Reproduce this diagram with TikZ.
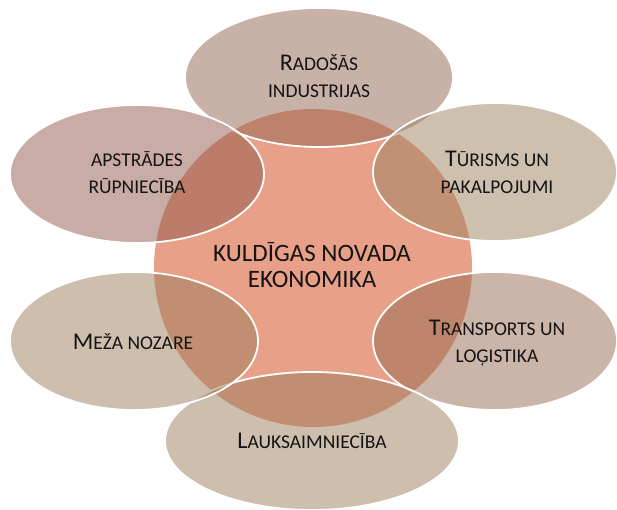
\documentclass[tikz,border=0pt]{standalone}
\usepackage{fontspec}
\setmainfont{Carlito}
\usetikzlibrary{shapes.geometric}
\definecolor{circc}{RGB}{232,160,136}
\definecolor{ctop}{RGB}{145,101,81}
\definecolor{clt}{RGB}{145,89,75}
\definecolor{crt}{RGB}{157,129,93}
\definecolor{crb}{RGB}{151,105,81}
\definecolor{cbot}{RGB}{157,125,93}
\definecolor{clb}{RGB}{157,125,93}
\definecolor{txt}{RGB}{20,20,20}
\newcommand\scx[1]{{\fontsize{19.5}{24}\selectfont #1}}
\begin{document}
\begin{tikzpicture}[x=1pt,y=-1pt,
  ell/.style={ellipse, draw=white, line width=1.8pt, fill opacity=0.5, inner sep=0pt},
  lbl/.style={anchor=base, inner sep=0pt, text=txt, font=\fontsize{24}{28}\selectfont},
  clbl/.style={anchor=base, inner sep=0pt, text=txt, font=\fontsize{25}{30}\selectfont}]
\useasboundingbox (0,0) rectangle (617,510);
\node[circle, fill=circc, minimum size=318pt, inner sep=0pt] (core) at (313,268) {};
\node[ell, fill=ctop, minimum width=268pt, minimum height=139pt] (etop) at (319,77.5) {};
\node[ell, fill=crt, minimum width=244pt, minimum height=138pt] (ert) at (495,172) {};
\node[ell, fill=crb, minimum width=244pt, minimum height=138pt] (erb) at (495,341) {};
\node[ell, fill=cbot, minimum width=294pt, minimum height=138pt] (ebot) at (312,441) {};
\node[ell, fill=clb, minimum width=248pt, minimum height=138pt] (elb) at (134,341) {};
\node[ell, fill=clt, minimum width=254pt, minimum height=138pt] (elt) at (137,174) {};
% texts
\node[clbl] (c1) at (312,261) {KULDĪGAS NOVADA};
\node[clbl] (c2) at (312,287) {EKONOMIKA};
\node[lbl] (t1) at (319,71) {R\scx{ADOŠĀS}};
\node[lbl] (t2) at (319,98) {\scx{INDUSTRIJAS}};
\node[lbl] (l1) at (137,167) {\scx{APSTRĀDES}};
\node[lbl] (l2) at (137,194) {\scx{RŪPNIECĪBA}};
\node[lbl] (r1) at (497,167) {T\scx{ŪRISMS UN}};
\node[lbl] (r2) at (497,194) {\scx{PAKALPOJUMI}};
\node[lbl] (m1) at (133,349) {M\scx{EŽA NOZARE}};
\node[lbl] (s1) at (497,335) {T\scx{RANSPORTS UN}};
\node[lbl] (s2) at (497,362) {\scx{LOĢISTIKA}};
\node[lbl] (b1) at (312,448) {L\scx{AUKSAIMNIECĪBA}};
\end{tikzpicture}
\end{document}
